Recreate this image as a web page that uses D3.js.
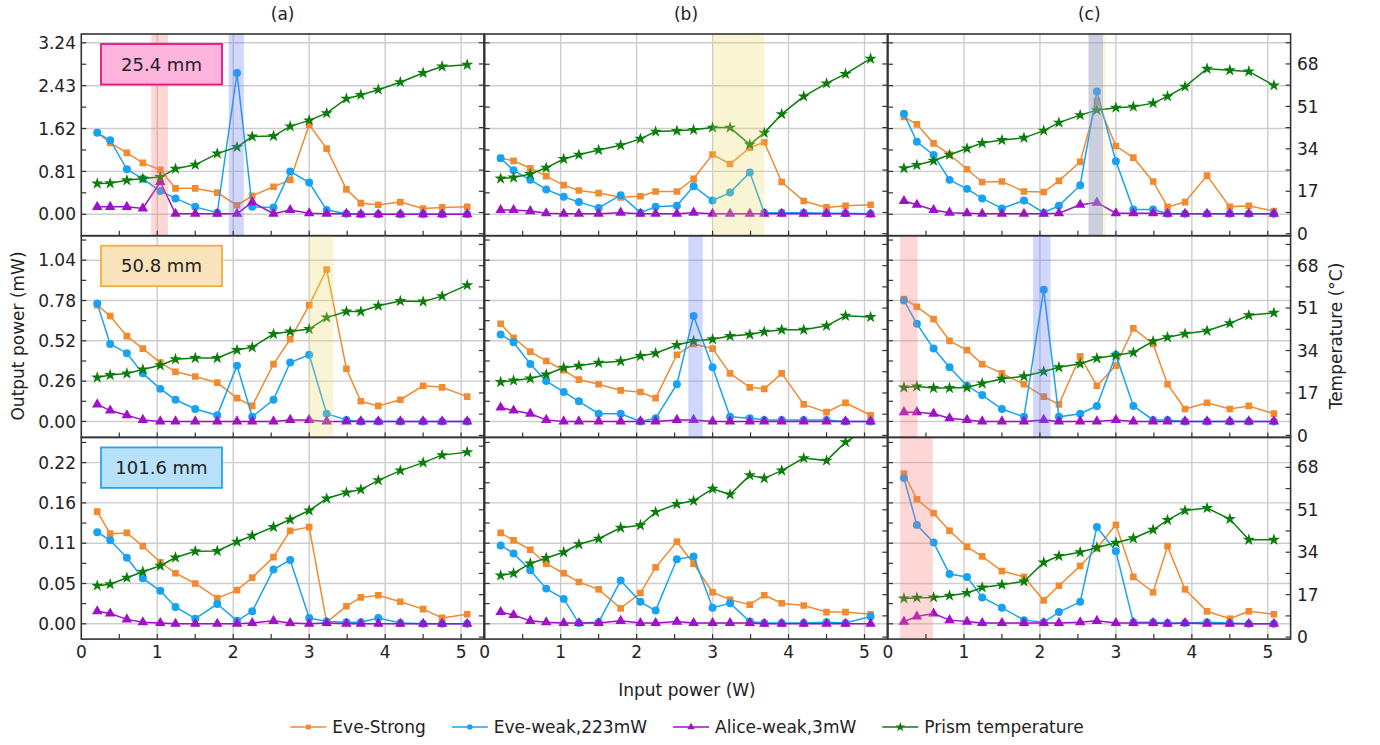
<!DOCTYPE html>
<html><head><meta charset="utf-8">
<script src="https://cdn.jsdelivr.net/npm/d3@7"></script>
<style>
body{margin:0;background:#fff;}
svg{display:block;}
text{font-family:"DejaVu Sans",sans-serif;fill:#222;}
</style>
</head><body>
<svg id="c" width="1380" height="745"></svg>
<script>
// ---------------- DATA ----------------
const inputPower = [0.21,0.38,0.6,0.81,1.04,1.24,1.5,1.79,2.05,2.25,2.53,2.75,3.0,3.23,3.49,3.68,3.91,4.2,4.5,4.75,5.08];
const columnTitles = ["(a)","(b)","(c)"];
const distanceLabels = ["25.4 mm","50.8 mm","101.6 mm"];
const xTicks = [0,1,2,3,4,5];
const tempTicks = [0,17,34,51,68];
const outTicks25 = [0,0.81,1.62,2.43,3.24];
const outTickLabels25 = ["0.00","0.81","1.62","2.43","3.24"];
const outTicks50 = [0,0.26,0.52,0.78,1.04];
const outTickLabels50 = ["0.00","0.26","0.52","0.78","1.04"];
const outTicks101 = [0,0.055,0.11,0.165,0.22];
const outTickLabels101 = ["0.00","0.05","0.11","0.16","0.22"];
const seriesNames = ["Eve-Strong","Eve-weak,223mW","Alice-weak,3mW","Prism temperature"];

// 25.4 mm row
const strong25a = [1.54,1.35,1.16,0.97,0.84,0.49,0.49,0.41,0.17,0.35,0.52,0.65,1.69,1.24,0.47,0.21,0.18,0.23,0.11,0.13,0.14];
const weak25a   = [1.54,1.40,0.85,0.67,0.44,0.30,0.14,0.03,2.67,0.14,0.13,0.81,0.60,0.08,0.01,0,0,0,0,0,0];
const alice25a  = [0.14,0.14,0.14,0.11,0.61,0.01,0.01,0.01,0.01,0.23,0.01,0.08,0.02,0.01,0.01,0,0,0,0,0,0];
const temp25a   = [20.1,20.2,21.4,22.1,22.7,26.0,27.6,32.1,34.7,38.9,39.1,43.0,45.4,48.3,54.1,55.6,57.7,60.7,64.4,67.0,67.7];
const strong25b = [1.06,1.01,0.87,0.72,0.55,0.45,0.40,0.32,0.34,0.43,0.43,0.67,1.13,0.95,1.26,1.36,0.61,0.25,0.13,0.16,0.18];
const weak25b   = [1.06,0.83,0.65,0.47,0.33,0.23,0.12,0.36,0.03,0.14,0.16,0.53,0.26,0.41,0.79,0.03,0.03,0.03,0.02,0.02,0.01];
const alice25b  = [0.08,0.08,0.06,0.02,0.01,0.01,0.01,0.03,0.01,0.01,0.01,0.03,0.01,0.01,0.01,0.01,0.01,0.01,0.01,0.01,0];
const temp25b   = [22.1,22.5,23.9,26.4,29.9,31.6,33.5,35.4,38.0,40.9,41.2,41.6,42.5,42.5,35.7,40.4,47.9,55.0,60.2,64.0,70.1];
const strong25c = [1.84,1.70,1.34,1.13,0.85,0.61,0.62,0.43,0.42,0.63,0.99,2.14,1.29,1.07,0.62,0.14,0.23,0.73,0.14,0.16,0.06];
const weak25c   = [1.90,1.37,1.12,0.65,0.48,0.30,0.11,0.26,0.03,0.16,0.55,2.32,1.00,0.09,0.09,0.01,0.01,0.01,0.01,0.01,0.01];
const alice25c  = [0.25,0.18,0.08,0.03,0.02,0.01,0.01,0.01,0.01,0.02,0.18,0.22,0.02,0.02,0.02,0.01,0.01,0.01,0.01,0.01,0.01];
const temp25c   = [26.2,27.5,29.2,31.6,34.1,36.3,37.5,38.4,41.3,44.5,47.5,49.5,50.5,50.9,52.3,55.0,58.9,66.1,65.5,65.0,59.4];
// 50.8 mm row
const strong50a = [0.75,0.68,0.55,0.47,0.38,0.32,0.29,0.25,0.15,0.10,0.37,0.53,0.75,0.98,0.34,0.13,0.10,0.14,0.23,0.22,0.16];
const weak50a   = [0.76,0.50,0.44,0.31,0.21,0.14,0.08,0.04,0.36,0.03,0.14,0.38,0.43,0.05,0.01,0,0,0,0,0,0];
const alice50a  = [0.11,0.07,0.04,0.01,0,0,0,0,0,0,0,0.01,0.01,0,0,0,0,0,0,0,0];
const temp50a   = [23.2,24.2,24.8,26.4,28.1,30.5,31.0,31.0,34.2,35.3,40.6,41.6,42.6,47.2,49.6,49.6,51.9,53.8,53.6,55.8,60.2];
const strong50b = [0.63,0.54,0.45,0.39,0.33,0.27,0.24,0.20,0.19,0.15,0.43,0.50,0.47,0.31,0.22,0.21,0.31,0.11,0.06,0.12,0.04];
const weak50b   = [0.56,0.51,0.37,0.26,0.19,0.13,0.05,0.05,0,0.02,0.24,0.68,0.35,0.03,0.02,0.01,0.01,0.01,0.01,0,0];
const alice50b  = [0.09,0.07,0.05,0.01,0,0,0,0,0,0,0.01,0.01,0,0,0,0,0,0,0,0,0];
const temp50b   = [21.4,22.0,22.8,24.4,27.1,27.9,29.1,29.7,31.8,32.9,36.2,37.8,38.5,39.8,40.4,41.5,42.3,42.3,43.9,47.9,47.4];
const strong50c = [0.79,0.74,0.66,0.52,0.46,0.37,0.31,0.24,0.16,0.11,0.42,0.23,0.36,0.60,0.50,0.24,0.08,0.12,0.08,0.10,0.05];
const weak50c   = [0.78,0.63,0.47,0.35,0.23,0.17,0.08,0.03,0.85,0.03,0.05,0.10,0.43,0.10,0.01,0.01,0,0,0,0,0];
const alice50c  = [0.06,0.06,0.05,0.02,0.01,0,0,0,0.01,0,0,0,0.01,0,0,0,0,0,0,0,0];
const temp50c   = [19.2,19.6,19.0,19.0,19.2,20.8,22.7,23.7,25.6,27.3,28.7,30.9,32.1,33.2,37.7,39.3,40.7,41.9,44.9,48.1,49.1];
// 101.6 mm row
const strong101a = [0.153,0.123,0.124,0.106,0.084,0.069,0.055,0.035,0.046,0.063,0.091,0.127,0.132,0.002,0.024,0.036,0.039,0.030,0.020,0.008,0.013];
const weak101a   = [0.125,0.114,0.090,0.062,0.045,0.023,0.007,0.027,0.004,0.017,0.074,0.087,0.008,0.003,0.002,0.002,0.008,0.001,0,0,0];
const alice101a  = [0.017,0.014,0.006,0.002,0.001,0,0,0,0,0.001,0.004,0.001,0,0.001,0,0,0,0,0,0,0];
const temp101a   = [20.6,21.2,23.8,26.2,28.6,31.9,34.4,34.5,38.2,40.6,44.1,47.1,50.7,55.5,57.9,59.1,62.8,66.7,69.9,72.9,74.1];
const strong101b = [0.124,0.114,0.101,0.082,0.069,0.057,0.047,0.021,0.042,0.077,0.112,0.082,0.043,0.033,0.026,0.039,0.028,0.025,0.016,0.016,0.013];
const weak101b   = [0.107,0.096,0.073,0.048,0.034,0.001,0.002,0.059,0.030,0.018,0.088,0.092,0.022,0.028,0.003,0.001,0.001,0.001,0.002,0.001,0.010];
const alice101b  = [0.016,0.012,0.004,0.002,0.001,0.001,0.001,0.004,0.001,0.001,0.003,0.001,0.001,0.001,0.001,0,0,0,0,0,0];
const temp101b   = [24.7,25.6,29.5,31.7,34.0,37.2,39.4,43.8,44.8,50.1,53.3,54.6,59.4,57.1,64.8,63.6,66.7,71.7,70.7,78.1,84.0];
const strong101c = [0.205,0.170,0.151,0.127,0.105,0.092,0.072,0.064,0.032,0.052,0.079,0.103,0.135,0.064,0.043,0.106,0.047,0.017,0.007,0.017,0.013];
const weak101c   = [0.199,0.135,0.111,0.068,0.064,0.036,0.022,0.005,0.002,0.016,0.030,0.132,0.099,0.002,0.002,0.001,0.001,0.002,0.001,0,0];
const alice101c  = [0.003,0.010,0.014,0.005,0.003,0.001,0.001,0.001,0.001,0.001,0.002,0.004,0.001,0.001,0.001,0,0.001,0,0,0,0];
const temp101c   = [15.5,15.8,15.9,16.6,17.7,19.9,21.0,22.3,29.9,32.5,34.0,35.9,37.8,39.6,43.0,46.9,50.7,51.7,47.3,39.0,39.0];

// highlighted input-power ranges [from, to, kind]
const bands25a = [[0.92,1.14,"pink"],[1.94,2.14,"blue"]];
const bands25b = [[3.0,3.68,"yellow"]];
const bands25c = [[2.64,2.86,"yellow"],[2.64,2.83,"blue"]];
const bands50a = [[3.0,3.32,"yellow"]];
const bands50b = [[2.68,2.87,"blue"]];
const bands50c = [[0.16,0.39,"pink"],[1.91,2.14,"blue"]];
const bands101a = [];
const bands101b = [];
const bands101c = [[0.16,0.59,"pink"]];

// ---------------- LAYOUT / STYLE ----------------
const colX = [81.3, 484.7, 888];
const panelW = 402.6;
const rowY = [34, 235.7, 437.4];
const rowH = 201.7;
const xDomain = [0, 5.3];
const tempDomain = [-0.8, 80];
const colors = {strong:"#f28a30", weak:"#17a3f2", alice:"#a010c8", temp:"#0b7d0b"};
const bandFill = {pink:"rgba(250,120,120,0.30)", blue:"rgba(100,120,245,0.30)", yellow:"rgba(235,220,100,0.28)"};

const rows = [
  {label:distanceLabels[0], dom:[-0.405,3.4067], ticks:outTicks25, tl:outTickLabels25, boxFill:"#fdb5de", boxStroke:"#e5167f",
   data:[[strong25a,weak25a,alice25a,temp25a,bands25a],[strong25b,weak25b,alice25b,temp25b,bands25b],[strong25c,weak25c,alice25c,temp25c,bands25c]]},
  {label:distanceLabels[1], dom:[-0.103,1.198], ticks:outTicks50, tl:outTickLabels50, boxFill:"#f8e3ba", boxStroke:"#e8b13c",
   data:[[strong50a,weak50a,alice50a,temp50a,bands50a],[strong50b,weak50b,alice50b,temp50b,bands50b],[strong50c,weak50c,alice50c,temp50c,bands50c]]},
  {label:distanceLabels[2], dom:[-0.0209,0.2544], ticks:outTicks101, tl:outTickLabels101, boxFill:"#b8e1fc", boxStroke:"#2aa2ea",
   data:[[strong101a,weak101a,alice101a,temp101a,bands101a],[strong101b,weak101b,alice101b,temp101b,bands101b],[strong101c,weak101c,alice101c,temp101c,bands101c]]}
];

const svg = d3.select("#c");
const defs = svg.append("defs");

const sym = {
  strong: d3.symbol().type(d3.symbolSquare).size(44),
  weak: d3.symbol().type(d3.symbolCircle).size(50),
  alice: d3.symbol().type(d3.symbolTriangle).size(48),
  temp: d3.symbol().type(d3.symbolStar).size(46)
};

rows.forEach((row, r) => {
  const y0 = rowY[r];
  const yL = d3.scaleLinear().domain(row.dom).range([y0 + rowH, y0]);
  const yT = d3.scaleLinear().domain(tempDomain).range([y0 + rowH, y0]);
  const halfStep = row.ticks[1] / 2;
  const minorL = d3.range(0, 30).map(i => i * halfStep).filter(v => v <= row.dom[1] + 1e-9);
  const minorT = d3.range(0, 10).map(i => i * 8.5).filter(v => v <= 80);

  row.data.forEach((pd, c) => {
    const [strong, weak, alice, temp, bands] = pd;
    const x = d3.scaleLinear().domain(xDomain).range([colX[c], colX[c] + panelW]);
    const g = svg.append("g");
    const clipId = `clip${r}${c}`;
    defs.append("clipPath").attr("id", clipId).append("rect")
      .attr("x", colX[c]).attr("y", y0).attr("width", panelW).attr("height", rowH);

    // gridlines
    g.append("g").selectAll("line").data(xTicks.filter(v => v > 0)).join("line")
      .attr("x1", d => x(d)).attr("x2", d => x(d)).attr("y1", y0).attr("y2", y0 + rowH)
      .attr("stroke", "#cdcdcd").attr("stroke-width", 1.4);
    g.append("g").selectAll("line").data(row.ticks).join("line")
      .attr("x1", colX[c]).attr("x2", colX[c] + panelW).attr("y1", d => yL(d)).attr("y2", d => yL(d))
      .attr("stroke", "#cdcdcd").attr("stroke-width", 1.4);

    const plot = g.append("g").attr("clip-path", `url(#${clipId})`);
    const series = [["strong", strong, yL], ["weak", weak, yL], ["alice", alice, yL], ["temp", temp, yT]];
    series.forEach(([key, vals, ys]) => {
      const pts = vals.map((v, i) => [inputPower[i], v]);
      plot.append("path").datum(pts)
        .attr("d", d3.line().x(d => x(d[0])).y(d => ys(d[1])))
        .attr("fill", "none").attr("stroke", colors[key]).attr("stroke-width", 1.5);
      plot.append("g").selectAll("path").data(pts).join("path")
        .attr("d", sym[key])
        .attr("transform", d => `translate(${x(d[0])},${ys(d[1])})`)
        .attr("fill", colors[key]);
    });

    // highlight bands (drawn over the data, translucent)
    g.append("g").selectAll("rect").data(bands).join("rect")
      .attr("x", d => x(d[0])).attr("width", d => x(d[1]) - x(d[0]))
      .attr("y", y0).attr("height", rowH)
      .attr("fill", d => bandFill[d[2]]);

    // ticks
    const tk = g.append("g").attr("stroke", "#333").attr("stroke-width", 1.2);
    d3.range(1, 11).map(i => i * 0.5).forEach(v => {
      tk.append("line").attr("x1", x(v)).attr("x2", x(v)).attr("y1", y0 + rowH).attr("y2", y0 + rowH - 5);
    });
    minorL.forEach(v => {
      tk.append("line").attr("x1", colX[c]).attr("x2", colX[c] + 5).attr("y1", yL(v)).attr("y2", yL(v));
    });
    minorT.forEach(v => {
      tk.append("line").attr("x1", colX[c] + panelW).attr("x2", colX[c] + panelW - 5).attr("y1", yT(v)).attr("y2", yT(v));
    });

    // frame
    g.append("rect").attr("x", colX[c]).attr("y", y0).attr("width", panelW).attr("height", rowH)
      .attr("fill", "none").attr("stroke", "#333").attr("stroke-width", 1.6);

    if (c === 0) {
      g.append("g").selectAll("text").data(row.ticks).join("text")
        .attr("x", 76).attr("y", d => yL(d)).attr("dy", "0.36em")
        .attr("text-anchor", "end").attr("font-size", 17)
        .text((d, i) => row.tl[i]);
      const bx = 101, by = y0 + 10, bw = 121, bh = 40.5;
      g.append("rect").attr("x", bx).attr("y", by).attr("width", bw).attr("height", bh)
        .attr("fill", row.boxFill).attr("stroke", row.boxStroke).attr("stroke-width", 1.8);
      g.append("text").attr("x", bx + bw / 2).attr("y", by + bh / 2).attr("dy", "0.36em")
        .attr("text-anchor", "middle").attr("font-size", 18).text(row.label);
    }
    if (c === 2) {
      g.append("g").selectAll("text").data(tempTicks).join("text")
        .attr("x", 1297).attr("y", d => yT(d)).attr("dy", "0.36em")
        .attr("text-anchor", "start").attr("font-size", 17)
        .text(d => d);
    }
    if (r === 2) {
      g.append("g").selectAll("text").data(xTicks).join("text")
        .attr("x", d => x(d)).attr("y", y0 + rowH + 13).attr("dy", "0.36em")
        .attr("text-anchor", "middle").attr("font-size", 17)
        .text(d => d);
    }
    if (r === 0) {
      svg.append("text").attr("x", colX[c] + panelW / 2).attr("y", 14).attr("dy", "0.36em")
        .attr("text-anchor", "middle").attr("font-size", 17).text(columnTitles[c]);
    }
  });
});

// axis titles
svg.append("text").attr("transform", "translate(18,336) rotate(-90)").attr("dy", "0.36em")
  .attr("text-anchor", "middle").attr("font-size", 17).text("Output power (mW)");
svg.append("text").attr("transform", "translate(1336,336) rotate(-90)").attr("dy", "0.36em")
  .attr("text-anchor", "middle").attr("font-size", 17).text("Temperature (°C)");
svg.append("text").attr("x", 687).attr("y", 690).attr("dy", "0.36em")
  .attr("text-anchor", "middle").attr("font-size", 17).text("Input power (W)");

// legend
const legKeys = ["strong", "weak", "alice", "temp"];
const leg = svg.append("g");
let lx = 0;
legKeys.forEach((k, i) => {
  const gi = leg.append("g").attr("transform", `translate(${lx},0)`);
  gi.append("line").attr("x1", 0).attr("x2", 36).attr("y1", 0).attr("y2", 0)
    .attr("stroke", colors[k]).attr("stroke-width", 1.5);
  gi.append("path").attr("d", d3.symbol().type(sym[k].type()).size(k === "temp" ? 30 : 24)())
    .attr("transform", "translate(18,0)").attr("fill", colors[k]);
  const t = gi.append("text").attr("x", 42).attr("dy", "0.36em").attr("font-size", 17).text(seriesNames[i]);
  lx += 42 + t.node().getComputedTextLength() + 26;
});
const totalW = lx - 26;
leg.attr("transform", `translate(${687 - totalW / 2},727)`);
</script>
</body></html>
